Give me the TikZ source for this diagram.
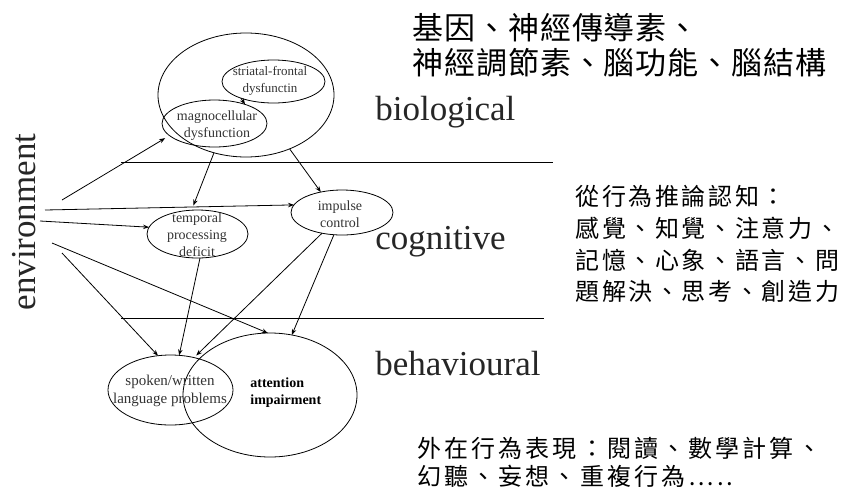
\documentclass[tikz,border=0pt]{standalone}
\usepackage{fontspec}
\setmainfont{Liberation Serif}
\newfontfamily\cjktop{Noto Sans CJK TC}[LetterSpace=3]
\newfontfamily\cjkmid{Noto Sans CJK TC}[LetterSpace=11]
\newfontfamily\cjkbot{Noto Sans CJK TC}[LetterSpace=13]
\usepackage{tikz}
\usetikzlibrary{arrows.meta,shapes.geometric,positioning}

\begin{document}
\begin{tikzpicture}[x=1pt,y=-1pt,-,line width=0.8pt,
                    >={Stealth[length=6pt,width=4.5pt]},
                    ring node/.style={ellipse,draw,inner sep=0pt,outer sep=0pt},
                    tag node/.style={inner sep=0pt,align=center,text=black!80,font=\fontsize{14}{17}\selectfont},
                    layer node/.style={inner sep=0pt,anchor=base west,text=black!85,font=\fontsize{35}{40}\selectfont},
                    note node/.style={inner sep=0pt,anchor=base west}]

 \useasboundingbox (0,0) rectangle (841,491);

 % layers
 \coordinate (l1a) at (121,162);
 \coordinate (l1b) at (553,162);
 \coordinate (l2a) at (121,318);
 \coordinate (l2b) at (544,318);
 \draw (l1a) -- (l1b);
 \draw (l2a) -- (l2b);

 \node[layer node] (biol) at (375,120) {biological};
 \node[layer node] (cogn) at (375,249) {cognitive};
 \node[layer node] (behv) at (375,375) {behavioural};
 \node[inner sep=0pt,rotate=90,anchor=base,text=black!85,font=\fontsize{35}{40}\selectfont] (env) at (35,222) {environment};

 % biological
 \node[ring node,minimum width=176pt,minimum height=124pt] (bio) at (246,95) {};
 \node[ring node,minimum width=103pt,minimum height=43pt] (str) at (273.5,81.5) {};
 \node[ring node,minimum width=105pt,minimum height=47pt] (mag) at (214.5,123.5) {};
 \node[tag node,font=\fontsize{13}{17}\selectfont] (strt) at (270,81) {striatal-frontal\\dysfunctin};
 \node[tag node] (magt) at (217,126) {magnocellular\\dysfunction};

 % cognitive
 \node[ring node,minimum width=101pt,minimum height=48pt] (tmp) at (197.5,234) {};
 \node[ring node,minimum width=102pt,minimum height=45pt] (imp) at (342,212.5) {};
 \node[tag node] (tmpt) at (197,235) {temporal\\processing\\deficit};
 \node[tag node] (impt) at (340,214.5) {impulse\\control};

 % behavioural
 \node[ring node,minimum width=125pt,minimum height=70pt] (spk) at (170.5,390) {};
 \node[ring node,minimum width=174pt,minimum height=124pt] (att) at (270,395) {};
 \node[tag node,font=\fontsize{15}{18}\selectfont] (spkt) at (170,391) {spoken/written\\language problems};
 \node[tag node,anchor=west,align=left,text=black,font=\fontsize{14}{17}\selectfont\bfseries] (attt) at (250,392.5) {attention\\impairment};

 % from environment
 \coordinate (e1) at (62,200);
 \coordinate (e2) at (45,210);
 \coordinate (e3) at (40,221);
 \coordinate (e4) at (52,243);
 \coordinate (e5) at (62,253);

 \path[->]
 (e1) edge[shorten >=5pt] (mag.195)
 (e2) edge (imp.171)
 (e3) edge (tmp.172)
 (e4) edge (att.92)
 (e5) edge (spk.110)
 (str.207) edge (mag.32)
 (bio.241) edge[shorten >=5pt] (tmp.104)
 (bio.309) edge (imp.136)
 (tmp.276) edge (spk.76)
 (imp.226) edge[shorten >=3pt] (spk.54)
 (imp.250) edge (att.70);

 % notes
 \node[note node,font=\cjktop\fontsize{31}{35}\selectfont] (gen1) at (412,39.8) {基因、神經傳導素、};
 \node[note node,font=\cjktop\fontsize{31}{35}\selectfont] (gen2) at (412,74.8) {神經調節素、腦功能、腦結構};
 \node[note node,font=\cjkmid\fontsize{24}{32}\selectfont] (cog1) at (575,205.8) {從行為推論認知：};
 \node[note node,font=\cjkmid\fontsize{24}{32}\selectfont] (cog2) at (575,237.4) {感覺、知覺、注意力、};
 \node[note node,font=\cjkmid\fontsize{24}{32}\selectfont] (cog3) at (575,269.1) {記憶、心象、語言、問};
 \node[note node,font=\cjkmid\fontsize{24}{32}\selectfont] (cog4) at (575,300.8) {題解決、思考、創造力};
 \node[note node,font=\cjkbot\fontsize{24}{28}\selectfont] (out1) at (417,457.1) {外在行為表現：閱讀、數學計算、};
 \node[note node,font=\cjkbot\fontsize{24}{28}\selectfont] (out2) at (417,485.1) {幻聽、妄想、重複行為…..};

\end{tikzpicture}
\end{document}
